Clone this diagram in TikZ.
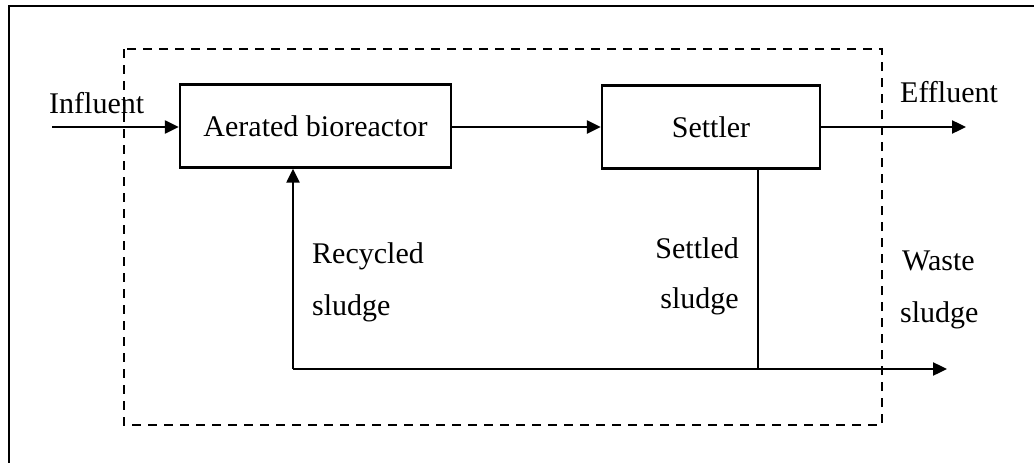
\documentclass[tikz,border=0pt]{standalone}
\usepackage{fontspec}
\setmainfont{Liberation Serif}
\usetikzlibrary{arrows.meta}
\begin{document}
\begin{tikzpicture}[x=1pt,y=-1pt,
  every node/.style={font=\fontsize{30}{36}\selectfont, inner sep=0pt},
  unit/.style={draw, line width=2.4pt, minimum height=83pt},
  flow/.style={line width=2.4pt, -{Triangle[length=14pt,width=13pt]}},
  pipe/.style={line width=1.8pt},
  frame/.style={line width=2.4pt},
  boundary/.style={line width=2.2pt, dash pattern=on 9pt off 7pt},
  lbl/.style={anchor=base west},
  lblr/.style={anchor=base east}]
\useasboundingbox (0,0) rectangle (1034,463);

% partial outer frame (top and left edges)
\draw[frame] (1034,6) -- (9,6) -- (9,463);

% system boundary
\draw[boundary] (124,49) rectangle (882,425);

% process units
\node[unit, minimum width=271pt] (bio) at (315.5,126) {Aerated bioreactor};
\node[unit, minimum width=218pt] (set) at (711,127) {Settler};

% junction points
\coordinate (inf) at (52,127);
\coordinate (eff) at (966,127);
\coordinate (rj) at (293,369);
\coordinate (sj) at (758,369);
\coordinate (wout) at (947,369);

% main flows
\draw[flow] (inf) -- (inf -| bio.west);
\draw[flow] (bio.east |- set.west) -- (set.west);
\draw[flow] (set.east) -- (eff);

% sludge lines
\draw[pipe] (sj |- set.south) -- (sj);
\draw[flow] (rj) -- (wout);
\draw[flow] (rj) -- (rj |- bio.south);

% labels
\node[lbl] (linf) at (49,113) {Influent};
\node[lbl] (leff) at (900,102) {Effluent};
\node[lbl] (lrec1) at (312,263) {Recycled};
\node[lbl] (lrec2) at (312,315) {sludge};
\node[lblr] (lset1) at (739,258) {Settled};
\node[lblr] (lset2) at (739,308) {sludge};
\node[lbl] (lwas1) at (902,270) {Waste};
\node[lbl] (lwas2) at (900,322) {sludge};
\end{tikzpicture}
\end{document}
